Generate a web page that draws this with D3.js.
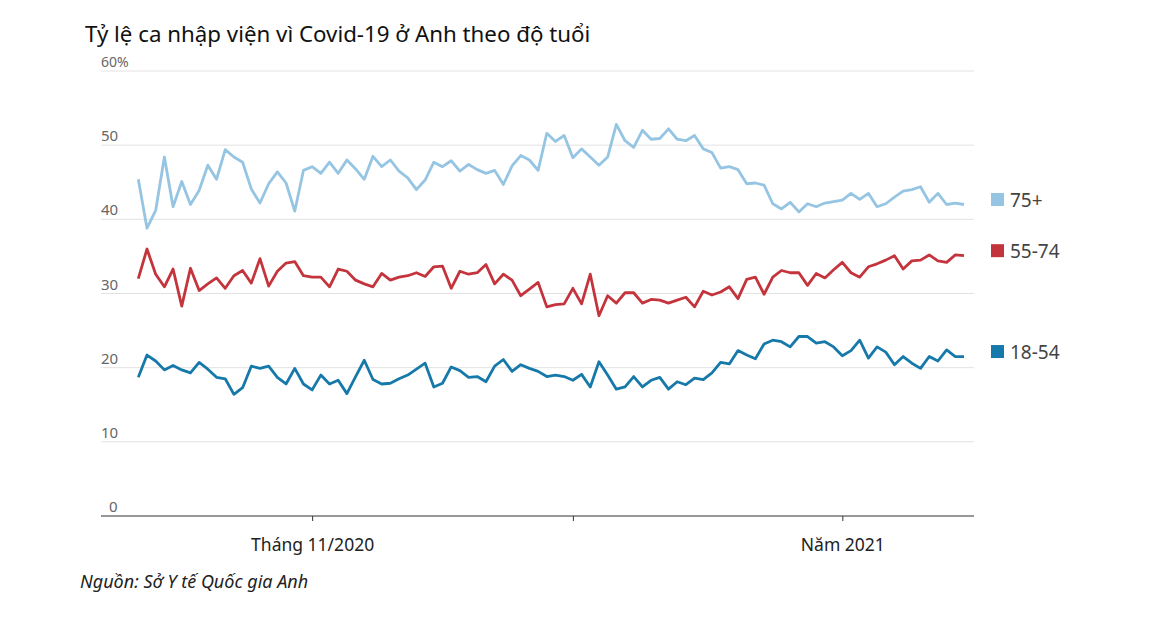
<!DOCTYPE html>
<html>
<head>
<meta charset="utf-8">
<script src="https://cdn.jsdelivr.net/npm/d3@7"></script>
<style>
  body { margin: 0; background: #fff; }
  svg { font-family: "Noto Sans", "Open Sans", sans-serif; }
</style>
</head>
<body>
<div id="chart"></div>
<script>
// daily values, 12 Oct 2020 -> 15 Jan 2021
const startDay = "2020-10-12";
const endDay = "2021-01-15";

const seriesNames = ["75+", "55-74", "18-54"];
const seriesColors = ["#95c5e2", "#c4343c", "#1679a9"];

const old75 = [45.4, 38.8, 41.2, 48.4, 41.7, 45.1, 42.0, 43.9, 47.3, 45.4,
  49.4, 48.4, 47.7, 44.1, 42.2, 44.8, 46.4, 44.9, 41.1, 46.6,
  47.1, 46.2, 47.7, 46.2, 48.0, 46.8, 45.4, 48.5, 47.1, 48.0,
  46.5, 45.6, 44.0, 45.3, 47.7, 47.1, 47.9, 46.5, 47.4, 46.7,
  46.2, 46.6, 44.7, 47.2, 48.6, 48.0, 46.6, 51.6, 50.5, 51.3,
  48.3, 49.5, 48.4, 47.3, 48.4, 52.8, 50.6, 49.7, 52.0, 50.8,
  50.9, 52.2, 50.8, 50.6, 51.3, 49.5, 49.0, 46.9, 47.1, 46.7,
  44.8, 44.9, 44.6, 42.1, 41.4, 42.3, 41.0, 42.1, 41.7, 42.2,
  42.4, 42.6, 43.5, 42.7, 43.5, 41.7, 42.1, 43.0, 43.8, 44.0,
  44.4, 42.3, 43.5, 42.0, 42.2, 42.0];

const mid5574 = [32.0, 36.0, 32.6, 30.9, 33.3, 28.3, 33.4, 30.4, 31.3, 32.1,
  30.7, 32.4, 33.1, 31.4, 34.7, 31.0, 33.0, 34.1, 34.3, 32.4,
  32.2, 32.2, 30.9, 33.3, 33.0, 31.8, 31.3, 30.9, 32.7, 31.8,
  32.2, 32.4, 32.8, 32.3, 33.6, 33.7, 30.7, 33.0, 32.6, 32.8,
  33.9, 31.3, 32.6, 31.8, 29.7, 30.6, 31.5, 28.2, 28.5, 28.6,
  30.7, 28.6, 32.6, 27.0, 29.7, 28.7, 30.1, 30.1, 28.7, 29.2,
  29.1, 28.7, 29.1, 29.5, 28.2, 30.3, 29.8, 30.2, 30.9, 29.3,
  31.9, 32.2, 29.9, 32.2, 33.1, 32.8, 32.8, 31.1, 32.7, 32.1,
  33.2, 34.2, 32.8, 32.2, 33.6, 34.0, 34.5, 35.1, 33.3, 34.4,
  34.5, 35.2, 34.4, 34.2, 35.2, 35.1];

const young1854 = [18.7, 21.7, 20.9, 19.7, 20.3, 19.7, 19.3, 20.7, 19.8, 18.7,
  18.5, 16.4, 17.3, 20.2, 19.9, 20.2, 18.7, 17.8, 19.9, 17.8,
  17.0, 19.0, 17.8, 18.3, 16.5, 18.8, 21.0, 18.4, 17.8, 17.9,
  18.5, 19.0, 19.8, 20.6, 17.4, 17.9, 20.1, 19.6, 18.7, 18.8,
  18.1, 20.2, 21.1, 19.5, 20.4, 19.9, 19.5, 18.8, 19.0, 18.8,
  18.3, 19.1, 17.4, 20.8, 19.0, 17.1, 17.4, 18.8, 17.4, 18.3,
  18.7, 17.1, 18.1, 17.7, 18.6, 18.4, 19.3, 20.7, 20.5, 22.3,
  21.7, 21.2, 23.2, 23.7, 23.5, 22.8, 24.2, 24.2, 23.3, 23.5,
  22.8, 21.6, 22.3, 23.7, 21.3, 22.8, 22.1, 20.4, 21.5, 20.6,
  19.9, 21.5, 20.9, 22.4, 21.5, 21.5];

const yTicks = [0, 10, 20, 30, 40, 50, 60];
const xTickDates = ["2020-11-01", "2020-12-01", "2021-01-01"];
const xTickLabels = ["Tháng 11/2020", "", "Năm 2021"];

const titleText = "Tỷ lệ ca nhập viện vì Covid-19 ở Anh theo độ tuổi";
const sourceText = "Nguồn: Sở Y tế Quốc gia Anh";

const width = 1162, height = 626;
const parse = d3.utcParse("%Y-%m-%d");
const days = d3.utcDay.range(parse(startDay), d3.utcDay.offset(parse(endDay), 1));
const allSeries = [old75, mid5574, young1854];

const svg = d3.select("#chart")
  .append("svg")
  .attr("width", width)
  .attr("height", height);

const x = d3.scaleUtc()
  .domain([parse(startDay), parse(endDay)])
  .range([138.3, 964]);

const y = d3.scaleLinear()
  .domain([0, 60])
  .range([516, 71]);

const left = 101, right = 974;

// gridlines
svg.append("g")
  .selectAll("line")
  .data(yTicks.filter(d => d > 0))
  .join("line")
  .attr("x1", left)
  .attr("x2", right)
  .attr("y1", d => y(d))
  .attr("y2", d => y(d))
  .attr("stroke", "#e2e2e2")
  .attr("stroke-width", 1);

// y labels, sitting on top of gridlines
svg.append("g")
  .selectAll("text")
  .data(yTicks)
  .join("text")
  .attr("x", d => d == 0 ? 109 : left)
  .attr("y", d => y(d) - 4)
  .attr("fill", "#666")
  .style("font-size", d => d == 60 ? "14px" : "15px")
  .text(d => d == 60 ? d + "%" : d);

// x axis
const xAxis = d3.axisBottom(x)
  .tickValues(xTickDates.map(parse))
  .tickSize(5)
  .tickFormat((d, i) => xTickLabels[i]);

const gx = svg.append("g")
  .attr("transform", `translate(0,${y(0)})`)
  .call(xAxis);
gx.select(".domain").remove();
gx.selectAll(".tick line").attr("stroke", "#333");
gx.selectAll(".tick text")
  .attr("y", 23)
  .attr("fill", "#222")
  .style("font-size", "17.5px")
  .style("font-family", "\"Noto Sans\", sans-serif");

svg.append("line")
  .attr("x1", left)
  .attr("x2", right)
  .attr("y1", y(0))
  .attr("y2", y(0))
  .attr("stroke", "#333")
  .attr("stroke-width", 1.2);

// lines
const line = d3.line()
  .x((d, i) => x(days[i]))
  .y(d => y(d));

svg.append("g")
  .selectAll("path")
  .data(allSeries)
  .join("path")
  .attr("fill", "none")
  .attr("stroke", (d, i) => seriesColors[i])
  .attr("stroke-width", 2.8)
  .attr("stroke-linejoin", "round")
  .attr("d", line);

// legend next to the last value
const legend = svg.append("g")
  .selectAll("g")
  .data(allSeries)
  .join("g")
  .attr("transform", d => `translate(991,${y(d[d.length - 1]) - 5})`);

legend.append("rect")
  .attr("x", 0)
  .attr("y", -6.5)
  .attr("width", 13)
  .attr("height", 13)
  .attr("fill", (d, i) => seriesColors[i]);

legend.append("text")
  .attr("x", 19)
  .attr("y", 0)
  .attr("dominant-baseline", "central")
  .attr("fill", "#444")
  .style("font-size", "19px")
  .text((d, i) => seriesNames[i]);

// title & source
svg.append("text")
  .attr("x", 85)
  .attr("y", 42)
  .attr("fill", "#111")
  .style("font-size", "22.3px")
  .text(titleText);

svg.append("text")
  .attr("x", 80)
  .attr("y", 588)
  .attr("fill", "#222")
  .style("font-size", "18px")
  .style("font-style", "italic")
  .text(sourceText);
</script>
</body>
</html>
